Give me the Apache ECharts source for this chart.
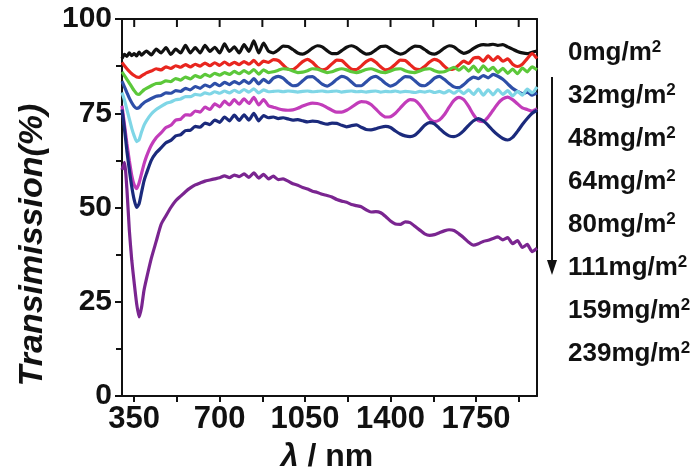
<!DOCTYPE html>
<html><head><meta charset="utf-8">
<script src="https://cdn.jsdelivr.net/npm/echarts@6/dist/echarts.min.js"></script>
<style>html,body{margin:0;padding:0;background:#fff}#c{width:695px;height:472px}</style>
</head><body><div id="c"></div>
<script>
const wavelength = [300,310,320,330,340,350,360,370,380,390,
 400,420,440,460,480,500,520,540,560,580,600,620,640,660,680,700,720,740,760,780,800,820,840,860,880,900,
 920,940,960,980,1000,1020,1040,1060,1080,1100,1120,1140,1160,1180,1200,1220,1240,1260,1280,1300,
 1320,1340,1360,1380,1400,1420,1440,1460,1480,1500,1520,1540,1560,1580,1600,1620,1640,1660,1680,1700,
 1720,1740,1760,1780,1800,1820,1840,1860,1880,1900,1920,1940,1960,1980,2000];

const seriesNames = ['0mg/m²','32mg/m²','48mg/m²','64mg/m²','80mg/m²','111mg/m²','159mg/m²','239mg/m²'];
const seriesColors = ['#111111','#e8261f','#5cc83a','#2e4fa8','#7fd6e6','#c23cba','#1b2a7c','#7a2590'];

const t0 = [89.5,90.6,90.1,91.0,90.3,90.8,90.2,91.2,90.4,91.0,
 91.5,90.5,92.0,91.0,92.4,90.6,92.0,91.0,93.0,91.0,92.4,91.0,93.0,91.4,92.5,91.0,93.4,91.4,92.6,91.0,93.2,91.4,94.2,91.0,93.6,91.5,
 91.0,91.8,92.8,92.7,91.9,91.0,90.7,91.3,92.3,92.9,
 92.6,91.6,90.8,90.8,91.6,92.5,92.9,92.4,91.4,90.7,
 90.9,91.8,92.7,92.8,92.1,91.2,90.7,91.1,92.1,92.8,
 92.7,91.9,91.0,90.7,91.3,92.3,92.9,92.6,91.6,90.9,
 91.3,92.2,92.9,93.2,93.1,93.3,93.0,93.2,92.6,92.0,
 91.4,91.0,90.8,91.2,91.5];
const t32 = [88.5,87.6,86.8,86.1,85.5,85.0,84.6,84.5,84.9,85.3,
 85.7,86.2,86.8,86.5,87.3,86.9,87.6,87.2,87.9,87.3,88.0,87.5,88.3,87.6,88.4,87.7,88.6,87.8,88.5,87.9,88.7,88.0,89.0,87.8,88.8,88.5,
 89.2,89.0,87.8,86.7,86.6,87.5,88.7,89.3,88.5,87.2,
 86.5,86.9,88.1,89.1,89.0,87.8,86.7,86.6,87.5,88.7,
 89.3,88.5,87.3,86.5,86.9,88.0,89.1,89.0,87.9,86.8,
 86.6,87.4,88.6,89.3,88.8,87.5,86.6,86.8,87.8,88.8,
 88.2,89.6,89.8,88.8,90.2,89.0,90.0,88.8,89.4,88.0,
 87.4,88.0,89.5,90.8,89.5];
const t48 = [86.0,85.0,84.0,83.0,82.0,81.0,80.2,80.0,80.6,81.2,
 81.6,82.3,82.9,83.0,83.6,83.4,84.2,83.8,84.6,84.1,85.0,84.5,85.3,84.8,85.6,85.1,85.8,85.3,86.1,85.5,86.3,85.6,86.6,85.4,86.5,85.8,
 86.0,86.4,86.8,86.7,86.2,85.8,85.9,86.3,86.8,86.7,
 86.2,85.8,86.0,86.5,86.8,86.5,86.0,85.8,86.1,86.6,
 86.8,86.4,85.9,85.8,86.2,86.7,86.8,86.3,85.9,85.8,
 86.2,86.7,86.8,86.3,85.9,86.0,86.6,87.2,86.4,87.4,
 86.2,87.5,86.0,87.6,86.3,87.2,85.8,86.9,85.6,86.7,
 85.5,87.0,86.0,87.3,86.5];
const t64 = [83.5,82.0,80.5,79.0,77.8,76.8,76.3,76.5,77.2,77.8,
 78.2,78.9,79.5,79.7,80.4,80.3,81.0,80.8,81.6,81.2,82.1,81.6,82.5,82.0,82.9,82.3,83.2,82.6,83.4,82.8,83.7,82.9,84.2,82.8,84.0,83.1,
 84.3,84.8,84.3,83.1,82.3,82.5,83.6,84.6,84.7,83.8,
 82.7,82.2,82.9,84.0,84.8,84.4,83.3,82.3,82.3,83.3,
 84.4,84.8,84.0,82.9,82.2,82.7,83.8,84.7,84.6,83.6,
 82.5,82.3,83.1,84.3,84.8,84.0,82.9,82.0,81.8,82.6,
 83.8,84.6,84.2,85.0,84.4,85.3,84.8,84.0,82.8,81.6,
 80.8,80.2,80.6,79.8,80.4];
const t80 = [80.5,78.5,76.0,73.5,71.0,69.0,67.5,68.0,70.0,71.8,
 73.0,74.8,76.0,76.8,77.6,78.0,78.6,78.8,79.4,79.4,80.0,79.8,80.4,80.1,80.7,80.3,80.9,80.4,81.1,80.5,81.3,80.6,81.5,80.4,81.2,80.7,
 80.8,80.9,80.7,80.9,80.8,80.6,80.8,80.9,80.7,80.8,
 80.9,80.7,80.8,80.9,80.6,80.8,80.9,80.7,80.8,80.6,
 80.8,80.9,80.6,80.8,80.7,80.9,80.6,80.8,80.7,80.5,
 80.8,80.6,80.9,80.5,80.8,80.4,81.0,80.3,81.1,80.2,
 81.2,80.0,81.4,79.8,81.2,79.9,81.3,80.0,81.0,79.6,
 80.8,79.8,81.4,80.4,82.0];
const t111 = [77.0,72.0,67.0,62.5,58.5,56.0,55.0,56.5,59.0,61.5,
 63.5,66.5,68.5,69.8,71.2,71.8,73.2,73.4,74.6,74.5,75.6,75.3,76.6,76.0,77.5,76.7,78.2,77.2,78.6,77.4,78.8,77.6,79.2,77.2,78.6,77.0,
 76.6,76.2,75.9,75.8,75.9,76.3,76.9,77.4,77.7,77.6,
 77.2,76.5,75.8,75.3,75.3,75.8,76.6,77.5,78.1,78.0,
 77.3,76.1,74.8,74.0,74.1,75.0,76.4,77.8,78.6,78.4,
 77.2,75.4,73.6,72.8,73.2,74.6,76.6,78.4,79.2,78.6,
 76.8,74.6,73.0,72.8,74.0,75.8,77.6,78.8,79.3,78.6,
 77.5,76.4,76.0,75.6,76.2];
const t159 = [76.0,71.0,65.0,60.0,55.5,52.0,50.0,51.0,54.0,57.0,
 59.0,62.5,64.5,65.8,67.2,67.8,69.0,69.3,70.4,70.5,71.5,71.3,72.4,72.0,73.2,72.6,74.0,73.0,74.5,73.1,74.6,73.2,75.0,73.0,74.4,73.8,
 74.0,73.6,73.8,73.5,73.2,73.3,73.0,72.7,72.9,72.8,
 72.4,72.1,72.4,72.3,71.8,71.4,71.7,71.9,71.3,70.7,
 70.6,70.9,71.3,71.5,71.2,70.3,69.5,69.0,68.8,69.2,
 70.4,71.8,72.5,72.2,71.0,69.8,69.0,68.8,69.3,70.4,
 71.8,73.0,73.6,73.0,71.8,70.4,69.2,68.3,67.9,68.6,
 70.2,72.0,73.6,75.0,75.8];
const t239 = [60.0,62.0,55.0,44.0,36.0,30.0,24.5,21.0,23.5,28.0,
 31.0,36.5,41.0,45.5,47.8,50.0,51.8,53.0,54.2,55.2,56.0,56.5,57.0,57.3,57.6,57.9,58.4,57.9,58.6,58.2,58.9,58.0,59.2,57.8,58.8,57.6,
 58.3,57.4,57.6,57.0,56.3,55.9,55.3,54.9,54.3,54.0,
 53.5,53.2,52.8,52.1,51.7,51.4,50.8,50.5,50.2,49.4,
 48.8,48.9,48.6,47.6,46.4,45.6,45.5,46.2,46.0,45.0,
 44.0,43.0,42.6,42.8,43.3,43.8,44.1,43.9,43.0,42.0,
 40.8,40.0,40.4,41.0,41.3,41.8,42.2,41.4,42.0,40.4,
 41.2,39.4,40.2,38.3,39.2];

const xTickValues = [350,525,700,875,1050,1225,1400,1575,1750,1925];
const xLabelValues = [350,700,1050,1400,1750];
const allValues = [t0,t32,t48,t64,t80,t111,t159,t239];

const FONT = '"Liberation Sans", Arial, sans-serif';
const axisLineStyle = () => ({color:'#111', width:2});

const series = allValues.map((vals, k) => ({
  name: seriesNames[k],
  type: 'line',
  xAxisIndex: 0, yAxisIndex: 0,
  data: wavelength.map((w, i) => [w, vals[i]]),
  showSymbol: false,
  smooth: 0.2,
  lineStyle: {width: 3.2, color: seriesColors[k]},
  itemStyle: {color: seriesColors[k]},
  animation: false
}));

const chart = echarts.init(document.getElementById('c'));
const baseGraphic = [
  {id:'ytitle', type:'text', x:33, y:245, rotation:Math.PI/2,
   style:{text:'Transimission(%)', fontSize:34, fontWeight:'bold', fontStyle:'italic', fontFamily:FONT, fill:'#111', align:'center', verticalAlign:'middle'}},
  {id:'xtitle', type:'text', x:327, y:457,
   style:{text:'{l|λ} / nm', fontSize:32, fontWeight:'bold', fontFamily:FONT, fill:'#111', align:'center', verticalAlign:'middle',
     rich:{l:{fontSize:32, fontWeight:'bold', fontStyle:'italic', fontFamily:FONT, fill:'#111'}}}},
  {id:'arrowLine', type:'line', shape:{x1:552, y1:77, x2:552, y2:262}, style:{stroke:'#111', lineWidth:2}},
  {id:'arrowHead', type:'polygon', shape:{points:[[547,260],[557,260],[552,275]]}, style:{fill:'#111'}}
];
chart.setOption({
  animation: false,
  backgroundColor: '#fff',
  grid: {left: 122, right: 158, top: 19, bottom: 76, containLabel: false},
  xAxis: [
    {type:'value', min:300, max:2000, position:'bottom',
     axisLine:{show:true, onZero:false, lineStyle:axisLineStyle()},
     axisTick:{show:true, customValues:xTickValues, length:6, inside:false, lineStyle:axisLineStyle()},
     axisLabel:{customValues:xLabelValues, formatter: v => String(v), fontSize:31, fontWeight:'bold', color:'#111', margin:8, fontFamily:FONT},
     splitLine:{show:false}},
    {type:'value', min:300, max:2000, position:'top',
     axisLine:{show:true, onZero:false, lineStyle:axisLineStyle()},
     axisTick:{show:false}, axisLabel:{show:false}, splitLine:{show:false}}
  ],
  yAxis: [
    {type:'value', min:0, max:100, interval:25, position:'left',
     axisLine:{show:true, onZero:false, lineStyle:axisLineStyle()},
     axisTick:{show:true, length:7, lineStyle:axisLineStyle()},
     minorTick:{show:true, splitNumber:2, length:6, lineStyle:axisLineStyle()},
     axisLabel:{fontSize:30, fontWeight:'bold', color:'#111', margin:10, fontFamily:FONT},
     splitLine:{show:false}, minorSplitLine:{show:false}},
    {type:'value', min:0, max:100, position:'right',
     axisLine:{show:true, onZero:false, lineStyle:axisLineStyle()},
     axisTick:{show:false}, axisLabel:{show:false}, splitLine:{show:false}}
  ],
  legend: {
    orient:'vertical', left:557, top:34, itemWidth:0, itemHeight:0, itemGap:16,
    selectedMode:false,
    itemStyle:{opacity:0}, lineStyle:{opacity:0},
    data: seriesNames,
    formatter: n => '{a|' + n.replace('²','') + '}{s|2}',
    textStyle: {
      color:'#111',
      rich: {
        a: {fontSize:26, fontWeight:'bold', fontFamily:FONT, color:'#111', lineHeight:28},
        s: {fontSize:17, fontWeight:'bold', fontFamily:FONT, color:'#111', lineHeight:12, verticalAlign:'top'}
      }
    }
  },
  graphic: baseGraphic,
  series: series
});

// inward tick marks on the top frame, positioned through the chart's x scale
const topY = chart.convertToPixel({yAxisIndex: 0}, 100);
const topTicks = xTickValues.map((v, i) => {
  const px = chart.convertToPixel({xAxisIndex: 0}, v);
  return {id: 'topTick' + i, type: 'rect', z: 100,
          shape: {x: px - 1, y: topY, width: 2, height: 8},
          style: {fill: '#111'}};
});
chart.setOption({graphic: baseGraphic.concat(topTicks)});
</script>
</body></html>
